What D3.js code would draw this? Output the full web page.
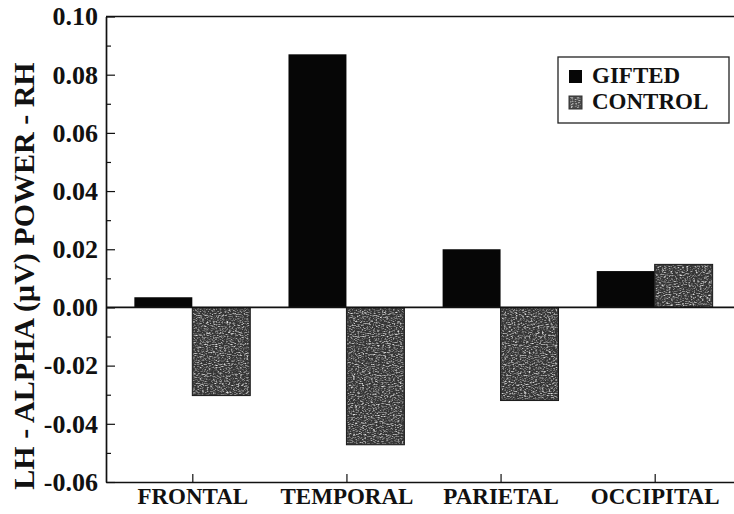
<!DOCTYPE html>
<html>
<head>
<meta charset="utf-8">
<script src="https://cdn.jsdelivr.net/npm/d3@7"></script>
<style>
  html, body { margin: 0; padding: 0; background: #fff; }
  svg { display: block; }
  text { font-family: "Liberation Serif", "Times New Roman", serif; font-weight: bold; fill: #111; }
</style>
</head>
<body>
<svg id="chart" width="734" height="514"></svg>
<script>
// Hemispheric alpha power asymmetry (LH - RH) by cortical region
const categories = ["FRONTAL", "TEMPORAL", "PARIETAL", "OCCIPITAL"];
const gifted = [0.0035, 0.087, 0.020, 0.0125];
const control = [-0.0303, -0.0472, -0.032, 0.0148];
const yTickValues = [-0.06, -0.04, -0.02, 0.00, 0.02, 0.04, 0.06, 0.08, 0.10];
const yMinorValues = [-0.05, -0.03, -0.01, 0.01, 0.03, 0.05, 0.07, 0.09];
const seriesNames = ["GIFTED", "CONTROL"];
const yTitle = "LH - ALPHA (\u00b5V) POWER - RH";

const svg = d3.select("#chart");
const plotLeft = 106, plotRight = 741, plotTop = 16.5, plotBottom = 482;

const x = d3.scaleLinear().domain([0.44, 4.56]).range([plotLeft, plotRight]);
const y = d3.scaleLinear().domain([-0.06, 0.10]).range([plotBottom, plotTop]);
const barW = 0.376; // bar width in category units

// Grain texture for the control bars
const defs = svg.append("defs");
const f = defs.append("filter").attr("id", "grain")
  .attr("x", 0).attr("y", 0).attr("width", 1).attr("height", 1);
f.append("feTurbulence").attr("type", "fractalNoise")
  .attr("baseFrequency", "0.45 0.9").attr("numOctaves", 2).attr("seed", 11).attr("result", "n");
f.append("feColorMatrix").attr("in", "n").attr("type", "matrix")
  .attr("values", "0 0 0 0 0.75  0 0 0 0 0.75  0 0 0 0 0.75  2.6 0 0 0 -1.2").attr("result", "c");
f.append("feComposite").attr("in", "c").attr("in2", "SourceGraphic").attr("operator", "in");

const idx = d3.range(categories.length);

// Gifted bars: left of each category tick
svg.append("g").selectAll("rect").data(idx).join("rect")
  .attr("x", i => x(i + 1 - barW))
  .attr("width", i => x(i + 1) - x(i + 1 - barW))
  .attr("y", i => y(Math.max(0, gifted[i])))
  .attr("height", i => Math.abs(y(gifted[i]) - y(0)))
  .attr("fill", "#060606");

// Control bars: right of each category tick
const cg = svg.append("g");
cg.selectAll("rect.base").data(idx).join("rect").attr("class", "base")
  .attr("x", i => x(i + 1))
  .attr("width", i => x(i + 1 + barW) - x(i + 1))
  .attr("y", i => y(Math.max(0, control[i])))
  .attr("height", i => Math.abs(y(control[i]) - y(0)))
  .attr("fill", "#353535").attr("stroke", "#1a1a1a").attr("stroke-width", 1);
cg.selectAll("rect.tex").data(idx).join("rect").attr("class", "tex")
  .attr("x", i => x(i + 1) + 1)
  .attr("width", i => x(i + 1 + barW) - x(i + 1) - 2)
  .attr("y", i => y(Math.max(0, control[i])) + 1)
  .attr("height", i => Math.abs(y(control[i]) - y(0)) - 2)
  .attr("fill", "#000").attr("filter", "url(#grain)");

// Zero line
svg.append("line")
  .attr("x1", plotLeft).attr("x2", plotRight).attr("y1", y(0)).attr("y2", y(0))
  .attr("stroke", "#111").attr("stroke-width", 1.7);

// Frame: top edge
svg.append("line")
  .attr("x1", plotLeft).attr("x2", plotRight).attr("y1", plotTop).attr("y2", plotTop)
  .attr("stroke", "#111").attr("stroke-width", 1.7);

// Y axis (inward ticks)
const yAxis = svg.append("g").attr("transform", `translate(${plotLeft},0)`)
  .call(d3.axisLeft(y).tickValues(yTickValues).tickFormat(d3.format(".2f"))
    .tickSizeInner(-9).tickSizeOuter(0).tickPadding(8));
yAxis.select(".domain").attr("stroke", "#111").attr("stroke-width", 1.7);
yAxis.selectAll(".tick line").attr("stroke", "#111").attr("stroke-width", 1.2);
yAxis.selectAll("text").style("font-size", "26px").attr("fill", "#111")
  .text(d => d3.format(".2f")(d).replace("\u2212", "-"));

const yMinor = svg.append("g").attr("transform", `translate(${plotLeft},0)`)
  .call(d3.axisLeft(y).tickValues(yMinorValues).tickFormat("").tickSizeInner(-5).tickSizeOuter(0));
yMinor.select(".domain").remove();
yMinor.selectAll(".tick line").attr("stroke", "#111").attr("stroke-width", 1.2);

// X axis (inward ticks)
const xAxis = svg.append("g").attr("transform", `translate(0,${plotBottom})`)
  .call(d3.axisBottom(x).tickValues(idx.map(i => i + 1)).tickFormat(d => categories[d - 1])
    .tickSizeInner(-8).tickSizeOuter(0).tickPadding(6));
xAxis.select(".domain").attr("stroke", "#111").attr("stroke-width", 1.7);
xAxis.selectAll(".tick line").attr("stroke", "#111").attr("stroke-width", 1.2);
xAxis.selectAll("text").style("font-size", "23px").attr("fill", "#111");

// Y axis title
svg.append("text")
  .attr("transform", "translate(34,276) rotate(-90)")
  .attr("text-anchor", "middle")
  .style("font-size", "30px")
  .text(yTitle);

// Legend
const lg = svg.append("g");
lg.append("rect").attr("x", 558).attr("y", 57).attr("width", 171).attr("height", 66)
  .attr("fill", "#fff").attr("stroke", "#222").attr("stroke-width", 1.3);
const rows = seriesNames.map((name, k) => ({ name, k }));
const item = lg.selectAll("g.item").data(rows).join("g").attr("class", "item")
  .attr("transform", d => `translate(569,${70 + d.k * 26})`);
item.append("rect").attr("width", 13).attr("height", 13)
  .attr("fill", d => d.k === 0 ? "#060606" : "#4a4a4a")
  .attr("stroke", d => d.k === 0 ? "none" : "#333");
item.filter(d => d.k === 1).append("rect")
  .attr("x", 1).attr("y", 1).attr("width", 11).attr("height", 11)
  .attr("fill", "#000").attr("filter", "url(#grain)");
item.append("text").attr("x", 23).attr("y", 13)
  .style("font-size", "23px").text(d => d.name);
</script>
</body>
</html>
